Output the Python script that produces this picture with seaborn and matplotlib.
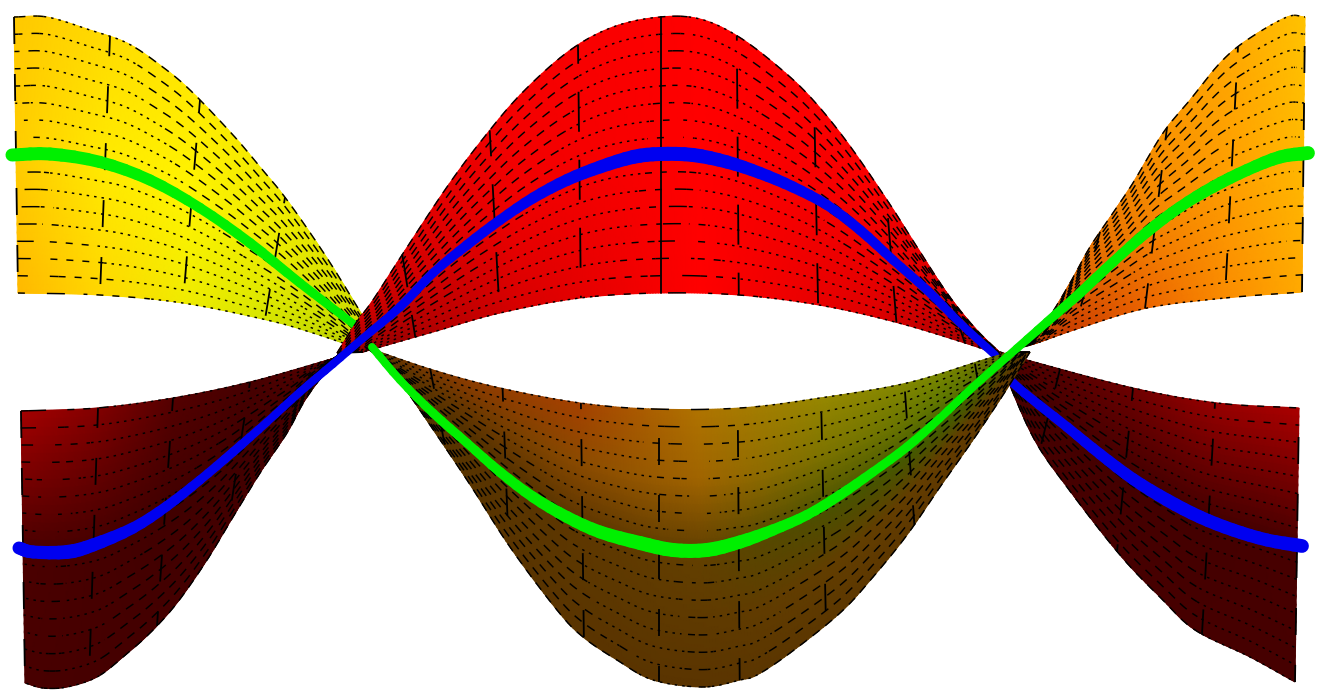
import numpy as np
import matplotlib
matplotlib.use("Agg")
import matplotlib.pyplot as plt
import seaborn as sns

# ---- surface outlines (pixel axes) ----
a_top = [(14,17),(47,17),(90,30),(127,43),(160,65),(190,90),(233,135),(260,167),(287,200),(327,258),(364,318)]
a_bot = [(18,293),(100,295),(183,303),(267,320),(310,332),(346,344)]
a_col_top = [14,110,200,285,364]
a_col_bot = [18,100,183,265,346]

b_top = [(337,353),(356,323),(373,300),(404,252),(447,187),(482,140),(521,94),(569,51),(613,27),(660,17),(700,19),
         (739,37),(782,70),(813,100),(847,142),(887,200),(917,247),(947,293),(974,327),(1000,353)]
b_bot = [(363,352),(433,332),(500,313),(580,298),(660,293),(739,295),(819,305),(895,322),(965,343),(1000,355)]
b_col_top = [337,402,489,577,660,738,815,887,950,1000]
b_col_bot = [363,415,499,580,660,740,819,897,965,1000]

c_top = [(365,347),(433,370),(500,388),(580,403),(653,409),(740,408),(820,398),(907,383),(983,360),(1010,352)]
c_bot = [(385,360),(413,400),(467,480),(510,547),(557,610),(583,637),(617,660),(653,680),(703,687),(740,680),
         (757,675),(790,653),(840,613),(873,577),(907,535),(940,487),(973,440),(1003,395),(1030,352)]
c_col_top = [365,430,502,580,658,739,822,905,975,1010]
c_col_bot = [385,445,508,583,658,741,827,915,985,1030]

d_top = [(21,411),(97,408),(173,398),(250,382),(335,358)]
d_bot = [(25,683),(43,688),(67,687),(97,677),(123,657),(150,633),(177,603),(207,560),(233,517),(260,473),(287,433),(307,397),(340,353)]
d_col_top = [21,98,173,250,335]
d_col_bot = [25,89,157,228,340]

e_top = [(1022,347),(1047,320),(1070,283),(1090,247),(1113,213),(1133,183),(1163,133),(1190,100),(1220,63),(1247,40),(1287,17),(1305,17)]
e_bot = [(1030,345),(1040,342),(1080,328),(1147,308),(1225,298),(1302,292)]
e_col_top = [1022,1100,1167,1238,1305]
e_col_bot = [1030,1075,1145,1225,1302]

f_top = [(1000,352),(1027,360),(1133,388),(1217,403),(1299,408)]
f_bot = [(1000,362),(1033,437),(1067,487),(1120,555),(1160,597),(1195,630),(1250,657),(1295,682)]
f_col_top = [1000,1060,1133,1215,1299]
f_col_bot = [1000,1040,1117,1202,1295]

# ---- shading control colours: rows top->bottom, columns left->right ----
a_colors = [[(255,200,0),(255,220,0),(255,235,0),(240,235,0),(210,220,0)],
            [(255,205,0),(255,235,0),(255,245,0),(235,235,0),(200,220,0)],
            [(255,185,0),(255,215,0),(240,235,0),(215,230,0),(190,210,0)]]
b_colors = [[(200,0,0),(245,0,0),(255,0,0),(250,0,0),(190,0,0)],
            [(170,0,0),(240,0,0),(255,0,0),(240,0,0),(170,0,0)],
            [(130,0,0),(215,0,0),(255,0,0),(220,0,0),(130,0,0)]]
c_colors = [[(90,50,0),(140,60,0),(165,65,0),(175,115,0),(150,135,0),(120,135,0),(95,90,0)],
            [(85,50,0),(105,55,0),(140,75,0),(160,100,0),(125,115,0),(95,120,0),(80,90,0)],
            [(85,50,0),(85,50,0),(95,55,0),(100,65,0),(75,80,0),(65,95,0),(85,70,0)],
            [(85,50,0),(88,52,0),(92,55,0),(95,58,0),(98,62,0),(100,62,0),(90,55,0)],
            [(85,50,0),(88,52,0),(90,52,0),(90,52,0),(92,55,0),(95,56,0),(90,55,0)]]
d_colors = [[(165,0,0),(130,0,0),(85,0,0),(70,0,0),(90,0,0)],
            [(75,0,0),(70,0,0),(65,0,0),(65,0,0),(70,0,0)],
            [(72,0,0),(70,0,0),(68,0,0),(68,0,0),(70,0,0)]]
e_colors = [[(200,80,0),(235,120,0),(250,150,0),(255,170,0),(255,195,0)],
            [(190,70,0),(225,100,0),(245,135,0),(255,160,0),(255,185,0)],
            [(170,50,0),(205,65,0),(235,100,0),(250,140,0),(255,170,0)]]
f_colors = [[(90,0,0),(85,0,0),(110,0,0),(150,0,0),(170,0,0)],
            [(75,0,0),(70,0,0),(68,0,0),(68,0,0),(72,0,0)],
            [(70,0,0),(70,0,0),(70,0,0),(70,0,0),(70,0,0)]]

# ---- thick curves: (x, y) with width in pixels ----
green_left = [(12,155,13),(50,154,13),(100,162,12),(150,180,11),(200,208,10),(250,243,10),(300,283,9),(356,326,8)]
green_main = [(372,347,8),(400,380,8),(433,413,9),(467,443,9),(500,472,10),(533,497,11),(567,517,12),(600,532,13),(640,543,14),
              (673,550,14),(707,550,14),(740,542,13),(773,530,11),(807,515,10),(840,495,10),(873,472,9),(907,447,9),(940,418,8),
              (973,387,8),(1007,357,8),(1047,322,9),(1080,293,10),(1113,262,10),(1147,232,11),(1180,207,11),(1213,187,12),(1247,170,12),
              (1280,157,13),(1308,153,14)]
blue_main = [(19,548,13),(33,552,13),(67,552,14),(93,545,13),(133,528,11),(167,506,10),(200,480,9),(233,452,9),(267,422,8),(300,392,8),
             (333,364,8),(362,339,8),(400,307,9),(433,273,9),(467,245,10),(500,220,10),(533,198,11),(567,180,12),(600,167,13),(633,157,14),
             (660,154,14),(693,155,14),(727,162,13),(760,173,12),(793,187,11),(827,205,10),(860,230,10),(893,260,9),(927,290,9),(960,323,8),(995,355,8)]
blue_right = [(1000,362,8),(1013,383,9),(1067,427,10),(1100,454,11),(1133,479,12),(1167,500,13),(1200,517,13),(1233,530,13),(1267,540,13),(1302,546,14)]

N_ROWS = 16
BLACK = "#000000"
PX = 0.72

sns.set_theme(style="white")
plt.rcParams["lines.scale_dashes"] = False
fig, ax = plt.subplots(figsize=(13.17, 6.97), dpi=100)
fig.subplots_adjust(0, 0, 1, 1)
z = [3]


def next_z():
    z[0] += 1
    return z[0]


def smooth(x, y, n=10):
    p = np.column_stack([np.asarray(x, float), np.asarray(y, float)])
    if len(p) < 3:
        return p[:, 0], p[:, 1]
    q = np.vstack([2 * p[0] - p[1], p, 2 * p[-1] - p[-2]])
    out = []
    for i in range(1, len(q) - 2):
        t = np.linspace(0, 1, n, endpoint=False)[:, None]
        out.append(0.5 * (2 * q[i] + (q[i + 1] - q[i - 1]) * t
                          + (2 * q[i - 1] - 5 * q[i] + 4 * q[i + 1] - q[i + 2]) * t ** 2
                          + (3 * q[i] - q[i - 1] - 3 * q[i + 1] + q[i + 2]) * t ** 3))
    out.append(p[-1:])
    r = np.vstack(out)
    return r[:, 0], r[:, 1]


def line(x, y, lw, ls="-", order=None, **kw):
    sns.lineplot(x=np.asarray(x), y=np.asarray(y), color=BLACK, linewidth=lw, linestyle=ls,
                 sort=False, estimator=None, errorbar=None, ax=ax,
                 zorder=order if order else z[0], **kw)


def dashed_row(x, y, shift):
    slope = np.abs(np.gradient(y) / np.maximum(np.abs(np.gradient(x)), 1e-6))
    cls = np.digitize(slope, [0.035, 0.1, 0.6])
    pats = [(18, 22), (7, 9), (2.5, 5), (9, 7)]
    start = 0
    for i in range(1, len(x) + 1):
        if i == len(x) or cls[i] != cls[start]:
            on, off = pats[cls[start]]
            seg = (shift % ((on + off) * PX), (on * PX, off * PX))
            line(x[start:i + 1], y[start:i + 1], 1.05, seg)
            start = i


def panel(top, bot, col_top, col_bot, colors, solid=(), col_on=27, col_off=30):
    tx, ty = smooth(*zip(*top))
    bx, by = smooth(*zip(*bot))
    tx, bx = np.maximum.accumulate(tx), np.maximum.accumulate(bx)
    uc = np.linspace(0, 1, len(col_top))
    su, sxt = smooth(uc, col_top)
    _, sxb = smooth(uc, col_bot)
    u = np.linspace(0, 1, 261)
    xt, xb = np.interp(u, su, sxt), np.interp(u, su, sxb)
    yt, yb = np.interp(xt, tx, ty), np.interp(xb, bx, by)
    v = np.linspace(0, 1, 2 * N_ROWS + 1)
    X = np.outer(1 - v, xt) + np.outer(v, xb)
    Y = np.outer(1 - v, yt) + np.outer(v, yb)

    table = np.array(colors, float) / 255
    r, c, _ = table.shape
    vc, ucol = np.linspace(0, 1, r), np.linspace(0, 1, c)
    C = np.zeros((len(v), len(u), 3))
    for ch in range(3):
        along_v = np.array([np.interp(v, vc, table[:, j, ch]) for j in range(c)])
        for i in range(len(v)):
            C[i, :, ch] = np.interp(u, ucol, along_v[:, i])
    ax.pcolormesh(X, Y, C, shading="gouraud", zorder=next_z())

    next_z()
    for i in range(N_ROWS + 1):
        dashed_row(X[2 * i], Y[2 * i], i * 2.3)
    for k in range(len(col_top)):
        j = int(np.argmin(np.abs(u - uc[k])))
        xs = X[:, j]
        ys = Y[:, j]
        if k in solid:
            line(xs, ys, 1.3)
        else:
            line(xs, ys, 1.3, (k * 7.0 * PX, (col_on * PX, col_off * PX)))


def thick(curve, color):
    x, y, w = zip(*curve)
    sx, sy = smooth(x, y, 4)
    idx = np.linspace(0, len(x) - 1, len(sx))
    sw = np.interp(idx, np.arange(len(x)), w)
    o = next_z()
    for i in range(len(sx) - 1):
        sns.lineplot(x=sx[i:i + 2], y=sy[i:i + 2], color=color, linewidth=sw[i] * PX, sort=False,
                     estimator=None, errorbar=None, ax=ax, zorder=o, solid_capstyle="round")


panel(a_top, a_bot, a_col_top, a_col_bot, a_colors)
thick(green_left, "#00f000")
panel(d_top, d_bot, d_col_top, d_col_bot, d_colors)
panel(f_top, f_bot, f_col_top, f_col_bot, f_colors)
thick(blue_right, "#0000f0")
panel(b_top, b_bot, b_col_top, b_col_bot, b_colors, solid=(4,), col_on=40, col_off=28)
thick(blue_main, "#0000f0")
panel(c_top, c_bot, c_col_top, c_col_bot, c_colors)
panel(e_top, e_bot, e_col_top, e_col_bot, e_colors)
thick(green_main, "#00f000")

ax.set_xlim(0, 1317)
ax.set_ylim(697, 0)
ax.axis("off")
fig.savefig("out.png", dpi=100, facecolor="white")
